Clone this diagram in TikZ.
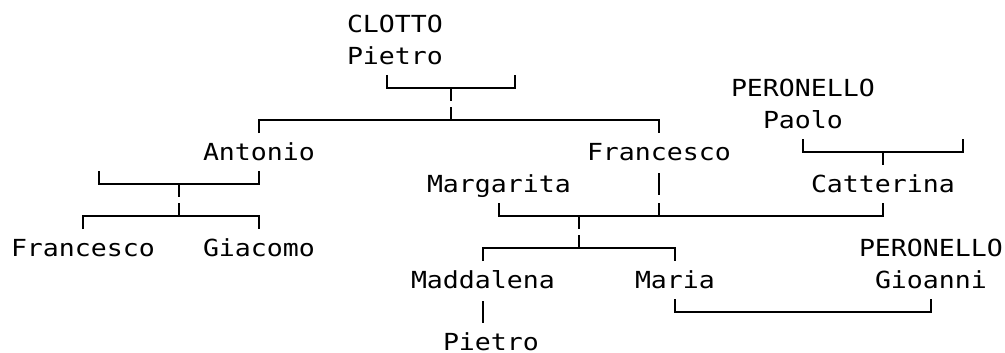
\documentclass[tikz,border=0pt]{standalone}
\usepackage{fontspec}
\newfontfamily\asciimono[FakeStretch=1.13]{DejaVu Sans Mono}
\begin{document}
\begin{tikzpicture}[x=1pt,y=-1pt,
  lbl/.style={anchor=base west,inner sep=0pt,outer sep=0pt,
    font=\asciimono\fontsize{23.5}{32}\selectfont,text=black},
  ln/.style={line width=2pt,line cap=butt,line join=miter,draw=black}]
\useasboundingbox (0,0) rectangle (1005,353);
% ---- names (column left edge = 11+16c, baseline = 24+32r+8.5)
\node[lbl] (clotto)    at (347,32.5)  {CLOTTO};
\node[lbl] (pietroA)   at (347,64.5)  {Pietro};
\node[lbl] (peronA)    at (731,96.5)  {PERONELLO};
\node[lbl] (paolo)     at (763,128.5) {Paolo};
\node[lbl] (antonio)   at (203,160.5) {Antonio};
\node[lbl] (francA)    at (587,160.5) {Francesco};
\node[lbl] (margarita) at (427,192.5) {Margarita};
\node[lbl] (catterina) at (811,192.5) {Catterina};
\node[lbl] (francB)    at (11,256.5)  {Francesco};
\node[lbl] (giacomo)   at (203,256.5) {Giacomo};
\node[lbl] (peronB)    at (859,256.5) {PERONELLO};
\node[lbl] (maddalena) at (411,288.5) {Maddalena};
\node[lbl] (maria)     at (635,288.5) {Maria};
\node[lbl] (gioanni)   at (875,288.5) {Gioanni};
\node[lbl] (pietroB)   at (443,350.5) {Pietro};
% ---- junction coordinates
\coordinate (b1l) at (387,88);  \coordinate (b1r) at (515,88);  \coordinate (b1t) at (451,88);
\coordinate (b2l) at (259,120); \coordinate (b2r) at (659,120); \coordinate (b2t) at (451,120);
\coordinate (b3l) at (803,152); \coordinate (b3r) at (963,152); \coordinate (b3t) at (883,152);
\coordinate (b4l) at (99,184);  \coordinate (b4r) at (259,184); \coordinate (b4t) at (179,184);
\coordinate (b5l) at (83,216);  \coordinate (b5r) at (259,216); \coordinate (b5t) at (179,216);
\coordinate (b6l) at (499,216); \coordinate (b6r) at (883,216); \coordinate (b6u) at (659,216); \coordinate (b6t) at (579,216);
\coordinate (b7l) at (483,248); \coordinate (b7r) at (675,248); \coordinate (b7t) at (579,248);
\coordinate (b8l) at (675,312); \coordinate (b8r) at (931,312);
\coordinate (p1) at (659,184);  \coordinate (p2) at (483,312);
% ---- row 2: Pietro CLOTTO & spouse
\draw[ln] ([yshift=13pt]b1l) -- (b1l) -- (b1r) -- ([yshift=13pt]b1r);
\draw[ln] (b1t) -- ([yshift=-13pt]b1t);
% ---- row 3: children Antonio, Francesco
\draw[ln] ([yshift=-13pt]b2l) -- (b2l) -- (b2r) -- ([yshift=-13pt]b2r);
\draw[ln] (b2t) -- ([yshift=13pt]b2t);
% ---- row 4: Paolo PERONELLO & spouse
\draw[ln] ([yshift=13pt]b3l) -- (b3l) -- (b3r) -- ([yshift=13pt]b3r);
\draw[ln] (b3t) -- ([yshift=-13pt]b3t);
% ---- row 5: Antonio & spouse
\draw[ln] ([yshift=13pt]b4l) -- (b4l) -- (b4r) -- ([yshift=13pt]b4r);
\draw[ln] (b4t) -- ([yshift=-13pt]b4t);
\draw[ln] ([yshift=11pt]p1) -- ([yshift=-11pt]p1);
% ---- row 6: Antonio's children; Francesco's marriages
\draw[ln] ([yshift=-13pt]b5l) -- (b5l) -- (b5r) -- ([yshift=-13pt]b5r);
\draw[ln] (b5t) -- ([yshift=13pt]b5t);
\draw[ln] ([yshift=13pt]b6l) -- (b6l) -- (b6r) -- ([yshift=13pt]b6r);
\draw[ln] (b6u) -- ([yshift=13pt]b6u);
\draw[ln] (b6t) -- ([yshift=-13pt]b6t);
% ---- row 7: children Maddalena, Maria
\draw[ln] ([yshift=-13pt]b7l) -- (b7l) -- (b7r) -- ([yshift=-13pt]b7r);
\draw[ln] (b7t) -- ([yshift=13pt]b7t);
% ---- row 9: Maddalena's son; Maria & Gioanni
\draw[ln] ([yshift=11pt]p2) -- ([yshift=-11pt]p2);
\draw[ln] ([yshift=13pt]b8l) -- (b8l) -- (b8r) -- ([yshift=13pt]b8r);
\end{tikzpicture}
\end{document}
